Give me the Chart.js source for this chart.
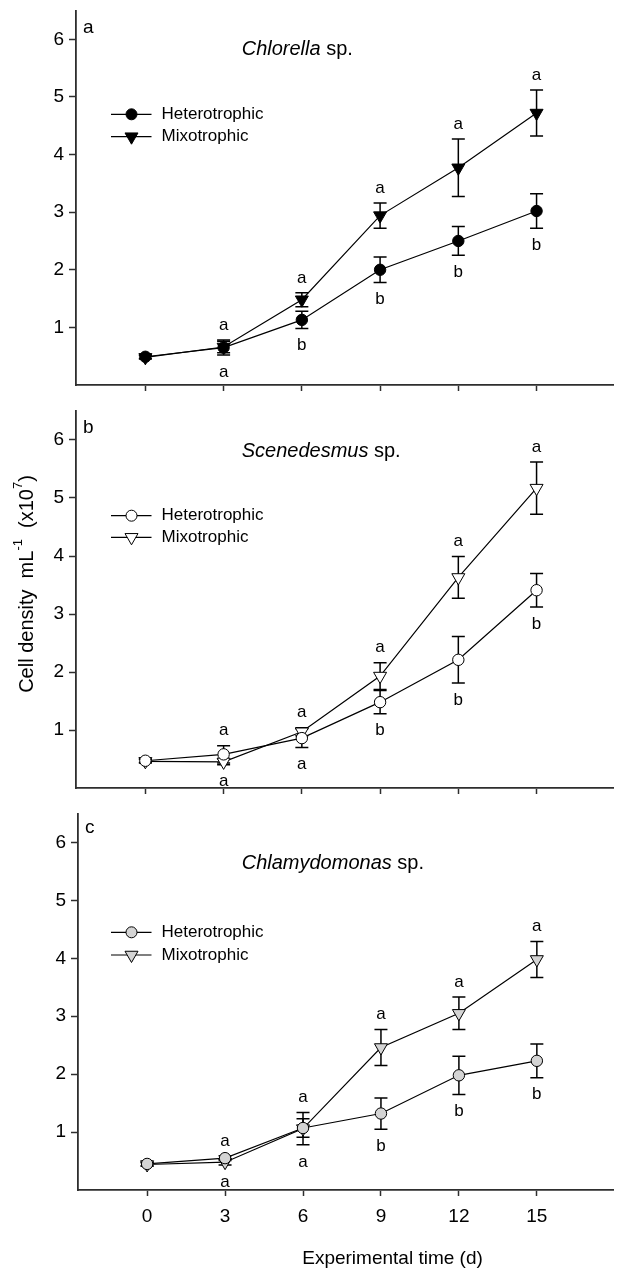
<!DOCTYPE html>
<html>
<head>
<meta charset="utf-8">
<script src="https://cdn.jsdelivr.net/npm/chart.js@4.4.1/dist/chart.umd.min.js"></script>
<style>
html, body { margin: 0; padding: 0; background: #fff; }
#wrap { position: relative; width: 622px; height: 1272px; overflow: hidden; }
canvas { position: absolute; left: 0; }
</style>
</head>
<body>
<div id="wrap">
  <canvas id="ca" width="622" height="400" style="top:0px"></canvas>
  <canvas id="cb" width="622" height="405" style="top:400px"></canvas>
  <canvas id="cc" width="622" height="467" style="top:805px"></canvas>
</div>
<script>
// ---------------- data ----------------
const days = [0, 3, 6, 9, 12, 15];
const xTickValues = [0, 3, 6, 9, 12, 15];
const yTickValues = [1, 2, 3, 4, 5, 6];
const seriesNames = ['Heterotrophic', 'Mixotrophic'];
const speciesNames = ['Chlorella', 'Scenedesmus', 'Chlamydomonas'];
const speciesSuffix = ' sp.';
const panelLetters = ['a', 'b', 'c'];
const xAxisTitle = 'Experimental time (d)';
const yAxisTitleParts = ['Cell density  mL', '-1', '  (x10', '7', ')'];

// Chlorella sp.
const chlorellaHet    = [0.49, 0.65, 1.13, 2.00, 2.50, 3.02];
const chlorellaHetErr = [0.03, 0.13, 0.15, 0.22, 0.25, 0.30];
const chlorellaMix    = [0.48, 0.66, 1.48, 2.94, 3.77, 4.72];
const chlorellaMixErr = [0.03, 0.10, 0.12, 0.22, 0.50, 0.40];
const chlorellaTopLetters    = ['', 'a', 'a', 'a', 'a', 'a'];
const chlorellaBottomLetters = ['', 'a', 'b', 'b', 'b', 'b'];

// Scenedesmus sp.
const scenHet    = [0.47, 0.58, 0.86, 1.48, 2.21, 3.41];
const scenHetErr = [0.03, 0.15, 0.16, 0.20, 0.40, 0.29];
const scenMix    = [0.46, 0.45, 0.97, 1.93, 3.63, 5.17];
const scenMixErr = [0.03, 0.05, 0.07, 0.23, 0.36, 0.45];
const scenTopLetters    = ['', 'a', 'a', 'a', 'a', 'a'];
const scenBottomLetters = ['', 'a', 'a', 'b', 'b', 'b'];

// Chlamydomonas sp.
const chlamHet    = [0.45, 0.55, 1.07, 1.32, 1.98, 2.23];
const chlamHetErr = [0.03, 0.04, 0.16, 0.27, 0.33, 0.29];
const chlamMix    = [0.44, 0.48, 1.06, 2.46, 3.05, 3.98];
const chlamMixErr = [0.03, 0.05, 0.28, 0.31, 0.28, 0.31];
const chlamTopLetters    = ['', 'a', 'a', 'a', 'a', 'a'];
const chlamBottomLetters = ['', 'a', 'a', 'b', 'b', 'b'];

// ---------------- styles / layout ----------------
const FONT = "'Liberation Sans', Arial, Helvetica, sans-serif";
Chart.defaults.font.family = FONT;
Chart.defaults.color = '#000';
const AXIS_COLOR = '#2e2e2e';

const panels = [
  { canvas: 'ca', padTop: 10.5, xH: 15, left: 76, species: speciesNames[0], letter: panelLetters[0],
    het: chlorellaHet, hetErr: chlorellaHetErr, mix: chlorellaMix, mixErr: chlorellaMixErr,
    topL: chlorellaTopLetters, botL: chlorellaBottomLetters,
    hetFill: '#000', mixFill: '#000', titleY: 49.3, legY: [114.3, 136.7], letterY: 28,
    showXLabels: false, yTitle: false, xTitle: false },
  { canvas: 'cb', padTop: 11, xH: 17, left: 76, species: speciesNames[1], letter: panelLetters[1],
    het: scenHet, hetErr: scenHetErr, mix: scenMix, mixErr: scenMixErr,
    topL: scenTopLetters, botL: scenBottomLetters,
    hetFill: '#fff', mixFill: '#fff', titleY: 51.7, legY: [115.7, 137.3], letterY: 28,
    showXLabels: false, yTitle: true, yTitleY: 184, xTitle: false },
  { canvas: 'cc', padTop: 7.5, xH: 82, left: 78, species: speciesNames[2], letter: panelLetters[2],
    het: chlamHet, hetErr: chlamHetErr, mix: chlamMix, mixErr: chlamMixErr,
    topL: chlamTopLetters, botL: chlamBottomLetters,
    hetFill: '#d4d4d4', mixFill: '#d4d4d4', titleY: 58.3, legY: [127.3, 150], letterY: 23,
    showXLabels: true, yTitle: false, xTitle: true, xTitleY: 454 }
];

function drawMarker(ctx, style, x, y, r, fill) {
  ctx.save();
  ctx.fillStyle = fill; ctx.strokeStyle = '#000'; ctx.lineWidth = 1;
  ctx.beginPath();
  if (style === 'circle') {
    ctx.arc(x, y, r, 0, Math.PI * 2);
  } else {
    ctx.moveTo(x, y + r);
    ctx.lineTo(x - 0.866 * r, y - 0.5 * r);
    ctx.lineTo(x + 0.866 * r, y - 0.5 * r);
    ctx.closePath();
  }
  ctx.fill(); ctx.stroke();
  ctx.restore();
}

function makeDecor(p) {
  return {
    id: 'decor_' + p.canvas,
    beforeDatasetsDraw(chart) {
      const ctx = chart.ctx, xs = chart.scales.x, ys = chart.scales.y;
      ctx.save();
      ctx.strokeStyle = '#000'; ctx.lineWidth = 1.5;
      [[p.het, p.hetErr], [p.mix, p.mixErr]].forEach(([v, e]) => {
        days.forEach((d, i) => {
          const x = xs.getPixelForValue(d);
          const y1 = ys.getPixelForValue(v[i] + e[i]);
          const y2 = ys.getPixelForValue(v[i] - e[i]);
          ctx.beginPath();
          ctx.moveTo(x, y1); ctx.lineTo(x, y2);
          ctx.moveTo(x - 6.5, y1); ctx.lineTo(x + 6.5, y1);
          ctx.moveTo(x - 6.5, y2); ctx.lineTo(x + 6.5, y2);
          ctx.stroke();
        });
      });
      ctx.restore();
    },
    afterDraw(chart) {
      const ctx = chart.ctx, xs = chart.scales.x, ys = chart.scales.y;
      ctx.save();
      ctx.fillStyle = '#000';
      // significance letters
      ctx.font = '17px ' + FONT;
      ctx.textAlign = 'center'; ctx.textBaseline = 'middle';
      days.forEach((d, i) => {
        const x = xs.getPixelForValue(d);
        const hi = Math.max(p.het[i] + p.hetErr[i], p.mix[i] + p.mixErr[i]);
        const lo = Math.min(p.het[i] - p.hetErr[i], p.mix[i] - p.mixErr[i]);
        if (p.topL[i]) ctx.fillText(p.topL[i], x, ys.getPixelForValue(hi) - 15);
        if (p.botL[i]) ctx.fillText(p.botL[i], x, ys.getPixelForValue(lo) + 17);
      });
      // panel letter
      ctx.textAlign = 'left';
      ctx.font = '19px ' + FONT;
      ctx.fillText(p.letter, p.left + 7, p.letterY);
      // species title
      ctx.font = 'italic 20px ' + FONT;
      const tx = 241.7;
      ctx.fillText(p.species, tx, p.titleY);
      const w = ctx.measureText(p.species).width;
      ctx.font = '20px ' + FONT;
      ctx.fillText(speciesSuffix, tx + w, p.titleY);
      // legend
      ctx.font = '17px ' + FONT;
      const styles = ['circle', 'triangle'];
      const fills = [p.hetFill, p.mixFill];
      const radii = [5.5, 7.5];
      seriesNames.forEach((name, k) => {
        const y = p.legY[k];
        ctx.strokeStyle = '#000'; ctx.lineWidth = 1.2;
        ctx.beginPath(); ctx.moveTo(111, y); ctx.lineTo(151.5, y); ctx.stroke();
        drawMarker(ctx, styles[k], 131.5, y, radii[k], fills[k]);
        ctx.fillStyle = '#000';
        ctx.fillText(name, 161.5, y);
      });
      // y axis title (rotated, with superscripts)
      if (p.yTitle) {
        ctx.save();
        ctx.translate(27, p.yTitleY);
        ctx.rotate(-Math.PI / 2);
        const fonts = ['20px ', '13px ', '20px ', '13px ', '20px '];
        const dy = [0, -9, 0, -9, 0];
        let total = 0;
        yAxisTitleParts.forEach((t, k) => { ctx.font = fonts[k] + FONT; total += ctx.measureText(t).width; });
        let cx = -total / 2;
        ctx.textAlign = 'left'; ctx.textBaseline = 'middle';
        yAxisTitleParts.forEach((t, k) => {
          ctx.font = fonts[k] + FONT;
          ctx.fillText(t, cx, dy[k]);
          cx += ctx.measureText(t).width;
        });
        ctx.restore();
      }
      if (p.xTitle) {
        ctx.font = '19px ' + FONT;
        ctx.textAlign = 'center'; ctx.textBaseline = 'middle';
        ctx.fillText(xAxisTitle, 392.5, p.xTitleY);
      }
      ctx.restore();
    }
  };
}

panels.forEach(p => {
  new Chart(document.getElementById(p.canvas), {
    type: 'line',
    data: {
      datasets: [
        { label: seriesNames[0], data: days.map((d, i) => ({ x: d, y: p.het[i] })),
          borderColor: '#000', borderWidth: 1.2, backgroundColor: p.hetFill,
          pointStyle: 'circle', pointRadius: 5.7, pointBorderWidth: 1,
          pointBackgroundColor: p.hetFill, pointBorderColor: '#000', tension: 0, fill: false },
        { label: seriesNames[1], data: days.map((d, i) => ({ x: d, y: p.mix[i] })),
          borderColor: '#000', borderWidth: 1.2, backgroundColor: p.mixFill,
          pointStyle: 'triangle', pointRotation: 180, pointRadius: 7.5, pointBorderWidth: 1,
          pointBackgroundColor: p.mixFill, pointBorderColor: '#000', tension: 0, fill: false }
      ]
    },
    options: {
      responsive: false,
      animation: false,
      events: [],
      layout: { padding: { top: p.padTop, left: 0, right: 0, bottom: 0 } },
      plugins: { legend: { display: false }, tooltip: { enabled: false }, title: { display: false } },
      scales: {
        x: {
          type: 'linear', min: -2.66, max: 17.95,
          afterBuildTicks: s => { s.ticks = xTickValues.map(v => ({ value: v })); },
          afterFit: s => { s.height = p.xH; s.paddingLeft = 0; s.paddingRight = 0; },
          border: { display: true, color: AXIS_COLOR, width: 1.8 },
          grid: { display: true, drawOnChartArea: false, drawTicks: true, tickLength: 6, tickColor: AXIS_COLOR, tickWidth: 1.5 },
          ticks: { display: p.showXLabels, font: { size: 19 }, color: '#000', padding: 9, maxRotation: 0, autoSkip: false,
                   callback: v => String(v) }
        },
        y: {
          type: 'linear', min: 0, max: 6.5,
          afterBuildTicks: s => { s.ticks = yTickValues.map(v => ({ value: v })); },
          afterFit: s => { s.width = p.left; s.paddingTop = 0; s.paddingBottom = 0; },
          border: { display: true, color: AXIS_COLOR, width: 1.8 },
          grid: { display: true, drawOnChartArea: false, drawTicks: true, tickLength: 7, tickColor: AXIS_COLOR, tickWidth: 1.5 },
          ticks: { font: { size: 19 }, color: '#000', padding: 5, callback: v => String(v) }
        }
      }
    },
    plugins: [makeDecor(p)]
  });
});
</script>
</body>
</html>
